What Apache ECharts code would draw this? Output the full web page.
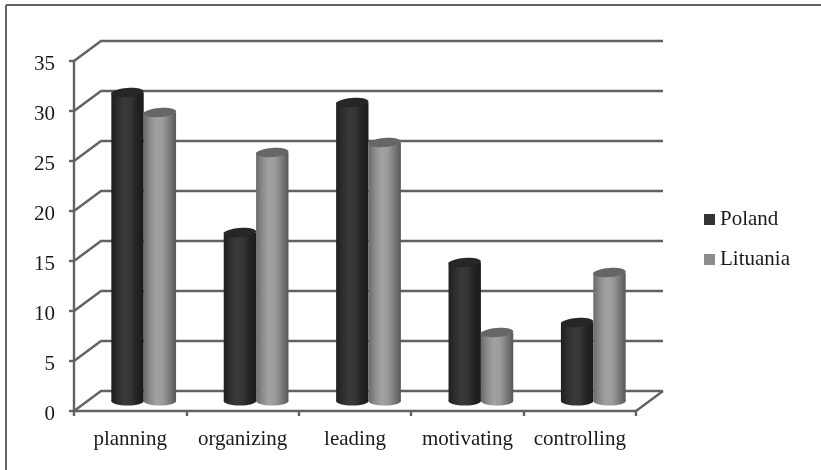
<!DOCTYPE html>
<html>
<head>
<meta charset="utf-8">
<style>html,body{margin:0;padding:0;background:#fff}#c{width:821px;height:470px}</style>
<script src="https://cdn.jsdelivr.net/npm/echarts@6/dist/echarts.min.js"></script>
</head>
<body>
<div id="c"></div>
<script>
const categories = ['planning', 'organizing', 'leading', 'motivating', 'controlling'];
const poland = [31, 17, 30, 14, 8];
const lituania = [29, 25, 26, 7, 13];
const yTicks = [0, 5, 10, 15, 20, 25, 30, 35];

// Oblique projection of the chart box: how far the back wall sits from the front plane.
const DEPTH_X = 27, DEPTH_Y = -20;
const LINE = '#626262';
const LINE_W = 2.4;
const FONT = '"Liberation Serif", "Times New Roman", serif';

const chart = echarts.init(document.getElementById('c'), null, { renderer: 'canvas' });

function shade(stops) {
  return new echarts.graphic.LinearGradient(0, 0, 1, 0,
    stops.map((c, i) => ({ offset: i / (stops.length - 1), color: c })));
}

// Wall and floor lines: each tick runs from the front axis back, then along the back wall.
function renderWalls(params, api) {
  const cs = params.coordSys;
  const v = api.value(1);
  const y = api.coord([0, v])[1];
  const x0 = cs.x, x1 = cs.x + cs.width;
  const children = [{
    type: 'polyline',
    shape: { points: [[x0, y], [x0 + DEPTH_X, y + DEPTH_Y], [x1 + DEPTH_X, y + DEPTH_Y]] },
    style: { fill: null, stroke: LINE, lineWidth: LINE_W }
  }];
  if (v === 0) {
    children.push({
      type: 'line',
      shape: { x1: x1, y1: y, x2: x1 + DEPTH_X, y2: y + DEPTH_Y },
      style: { stroke: LINE, lineWidth: LINE_W }
    });
  }
  return { type: 'group', children };
}

// Cylinder sitting halfway into the box depth; the caps lean slightly with the projection.
function cylinder(slot, bodyStops, capColor) {
  return function (params, api) {
    const bandW = api.size([1, 0])[0];
    const barW = bandW * 0.288;
    const c = api.coord([api.value(0), api.value(1)]);
    const base = api.coord([api.value(0), 0]);
    const cx = c[0] + DEPTH_X / 2 + (slot === 0 ? -barW / 2 : barW / 2);
    const top = c[1] + DEPTH_Y / 2 + 1.5;
    const bottom = base[1] + DEPTH_Y / 2;
    const rx = barW / 2, ry = 4.6;
    const fill = shade(bodyStops);
    return {
      type: 'group',
      children: [
        { type: 'ellipse', shape: { cx, cy: bottom, rx, ry }, style: { fill } },
        { type: 'rect', shape: { x: cx - rx, y: top, width: barW, height: bottom - top }, style: { fill } },
        { type: 'ellipse', shape: { cx, cy: top, rx, ry }, rotation: 0.07, originX: cx, originY: top, style: { fill: capColor } }
      ]
    };
  };
}

chart.setOption({
  animation: false,
  backgroundColor: '#fff',
  graphic: [
    { type: 'line', silent: true, shape: { x1: 6, y1: 5, x2: 821, y2: 5 }, style: { stroke: LINE, lineWidth: 2 } },
    { type: 'line', silent: true, shape: { x1: 6, y1: 5, x2: 6, y2: 470 }, style: { stroke: LINE, lineWidth: 2 } }
  ],
  grid: { left: 74, top: 61, width: 562, height: 350, containLabel: false },
  legend: {
    data: ['Poland', 'Lituania'],
    orient: 'vertical',
    left: 699,
    top: 204,
    icon: 'rect',
    itemWidth: 11,
    itemHeight: 11,
    itemGap: 19,
    textStyle: { fontFamily: FONT, fontSize: 21, color: '#1a1a1a' }
  },
  xAxis: {
    type: 'category',
    data: categories,
    axisLine: { lineStyle: { color: LINE, width: LINE_W } },
    axisTick: { show: true, length: 5, interval: 0, lineStyle: { color: LINE, width: LINE_W } },
    axisLabel: { fontFamily: FONT, fontSize: 21, color: '#1a1a1a', margin: 18, interval: 0 },
    splitLine: { show: false }
  },
  yAxis: {
    type: 'value',
    min: 0,
    max: 35,
    interval: 5,
    axisLine: { show: true, lineStyle: { color: LINE, width: LINE_W } },
    axisTick: { show: true, length: 5, lineStyle: { color: LINE, width: LINE_W } },
    axisLabel: { fontFamily: FONT, fontSize: 21, color: '#1a1a1a', margin: 19, verticalAlign: 'top', lineHeight: 6 },
    splitLine: { show: false }
  },
  series: [
    {
      name: 'walls',
      type: 'custom',
      coordinateSystem: 'cartesian2d',
      clip: false,
      silent: true,
      z: 1,
      data: yTicks.map(t => [0, t]),
      encode: { x: 0, y: 1 },
      renderItem: renderWalls
    },
    {
      name: 'Poland',
      type: 'custom',
      coordinateSystem: 'cartesian2d',
      clip: false,
      z: 3,
      itemStyle: { color: '#333333' },
      data: poland.map((v, i) => [i, v]),
      encode: { x: 0, y: 1 },
      renderItem: cylinder(0, ['#1f1f1f', '#2e2e2e', '#3a3a3a', '#343434', '#222222', '#1a1a1a'], '#262626')
    },
    {
      name: 'Lituania',
      type: 'custom',
      coordinateSystem: 'cartesian2d',
      clip: false,
      z: 4,
      itemStyle: { color: '#8c8c8c' },
      data: lituania.map((v, i) => [i, v]),
      encode: { x: 0, y: 1 },
      renderItem: cylinder(1, ['#6a6a6a', '#8c8c8c', '#a2a2a2', '#9a9a9a', '#7a7a7a', '#585858'], '#666666')
    }
  ]
});
</script>
</body>
</html>
